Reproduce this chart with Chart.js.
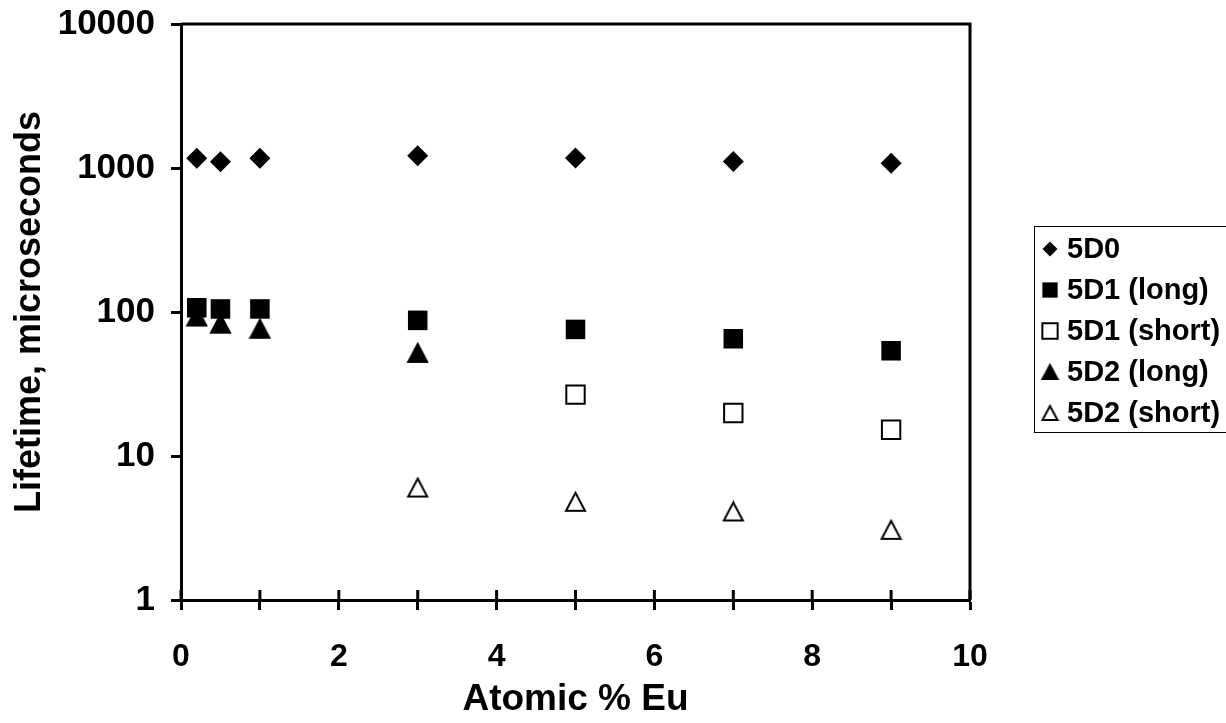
<!DOCTYPE html>
<html>
<head>
<meta charset="utf-8">
<script src="https://cdn.jsdelivr.net/npm/chart.js@4.4.0/dist/chart.umd.min.js"></script>
<style>
  html, body { margin: 0; padding: 0; background: #fff; }
  #wrap { width: 1226px; height: 723px; }
</style>
</head>
<body>
<div id="wrap"><canvas id="chart" width="1226" height="723"></canvas></div>
<script>
// ===========================
// Data
// ===========================
const euPercent = [0.2, 0.5, 1, 3, 5, 7, 9];
const d0Values = [1167, 1105, 1167, 1217, 1172, 1111, 1077];
const d1LongValues = [107, 105, 105, 87.5, 75.7, 65.2, 53.8];
const d1ShortValues = [null, null, null, null, 26.7, 19.9, 15.2];
const d2LongValues = [93, 83, 76.5, 52, null, null, null];
const d2ShortValues = [null, null, null, 6.04, 4.81, 4.12, 3.07];
const seriesNames = ["5D0", "5D1 (long)", "5D1 (short)", "5D2 (long)", "5D2 (short)"];
const xTickValues = [0, 1, 2, 3, 4, 5, 6, 7, 8, 9, 10];
const yTickValues = [1, 10, 100, 1000, 10000];

const FONT = "'Liberation Sans', Arial, Helvetica, sans-serif";

// ===========================
// Helpers
// ===========================
function toPoints(values) {
    return euPercent
        .map((x, i) => ({ x: x, y: values[i] }))
        .filter(p => p.y !== null);
}

// triangle marker centred on its bounding box (like the spreadsheet marker)
function triangleMarker(w, h, filled) {
    const c = document.createElement("canvas");
    c.width = w + 4;
    c.height = h + 4;
    const g = c.getContext("2d");
    g.beginPath();
    g.moveTo(c.width / 2, 2);
    g.lineTo(c.width - 2, h + 2);
    g.lineTo(2, h + 2);
    g.closePath();
    g.fillStyle = filled ? "#000" : "#fff";
    g.fill();
    g.lineWidth = 2;
    g.lineJoin = "miter";
    g.strokeStyle = "#000";
    g.stroke();
    return c;
}

const triFilled = triangleMarker(19, 18, true);
const triOpen = triangleMarker(19, 18, false);
const triFilledSmall = triangleMarker(15, 14, true);
const triOpenSmall = triangleMarker(15, 14, false);

// ===========================
// Plugins
// ===========================
// frame on top / right, and x ticks that cross the axis
const framePlugin = {
    id: "frame",
    afterDraw(chart) {
        const { ctx, chartArea: a, scales } = chart;
        ctx.save();
        ctx.strokeStyle = "#000";
        ctx.lineWidth = 3;
        ctx.beginPath();
        ctx.moveTo(a.left, a.top);
        ctx.lineTo(a.right, a.top);
        ctx.lineTo(a.right, a.bottom);
        ctx.stroke();
        xTickValues.forEach(v => {
            const px = scales.x.getPixelForValue(v);
            ctx.beginPath();
            ctx.moveTo(px, a.bottom);
            ctx.lineTo(px, a.bottom - 10);
            ctx.stroke();
        });
        ctx.restore();
    }
};

// boxed legend on the right
const legendPlugin = {
    id: "boxLegend",
    afterDraw(chart) {
        const ctx = chart.ctx;
        const left = 1034, top = 226, bottom = 432;
        const rowY = [249, 290, 331, 372, 413];
        ctx.save();
        ctx.strokeStyle = "#000";
        ctx.lineWidth = 1;
        ctx.strokeRect(left + 0.5, top + 0.5, 1240 - left, bottom - top);
        ctx.font = "bold 29px " + FONT;
        ctx.textBaseline = "middle";
        ctx.textAlign = "left";
        seriesNames.forEach((name, i) => {
            const ds = chart.data.datasets[i];
            const mx = 1050, my = rowY[i];
            if (i === 3 || i === 4) {
                const img = i === 3 ? triFilledSmall : triOpenSmall;
                ctx.drawImage(img, mx - img.width / 2, my - img.height / 2);
            } else {
                ctx.fillStyle = ds.pointBackgroundColor;
                ctx.strokeStyle = "#000";
                ctx.lineWidth = ds.pointBorderWidth;
                Chart.helpers.drawPoint(ctx, {
                    pointStyle: ds.pointStyle,
                    radius: i === 0 ? 7.5 : 10.8,
                    rotation: 0,
                    borderWidth: ds.pointBorderWidth
                }, mx, my);
            }
            ctx.fillStyle = "#000";
            ctx.fillText(name, 1067, my + 1);
        });
        ctx.restore();
    }
};

// ===========================
// Chart
// ===========================
new Chart(document.getElementById("chart").getContext("2d"), {
    type: "scatter",
    data: {
        datasets: [
            {
                label: seriesNames[0], data: toPoints(d0Values),
                pointStyle: "rectRot", pointRadius: 10.5,
                pointBackgroundColor: "#000", pointBorderColor: "#000", pointBorderWidth: 0
            },
            {
                label: seriesNames[1], data: toPoints(d1LongValues),
                pointStyle: "rect", pointRadius: 13.8,
                pointBackgroundColor: "#000", pointBorderColor: "#000", pointBorderWidth: 0
            },
            {
                label: seriesNames[2], data: toPoints(d1ShortValues),
                pointStyle: "rect", pointRadius: 13,
                pointBackgroundColor: "#fff", pointBorderColor: "#000", pointBorderWidth: 2
            },
            {
                label: seriesNames[3], data: toPoints(d2LongValues),
                pointStyle: triFilled, pointRadius: 10
            },
            {
                label: seriesNames[4], data: toPoints(d2ShortValues),
                pointStyle: triOpen, pointRadius: 10
            }
        ]
    },
    options: {
        responsive: false,
        animation: false,
        events: [],
        layout: { padding: { top: 24, right: 256, bottom: 0, left: 0 } },
        plugins: { legend: { display: false }, tooltip: { enabled: false } },
        scales: {
            x: {
                type: "linear", min: 0, max: 10,
                afterBuildTicks: s => { s.ticks = xTickValues.map(v => ({ value: v })); },
                afterFit: s => { s.height = 123; },
                ticks: {
                    callback: v => (v % 2 === 0 ? String(v) : ""),
                    font: { family: FONT, size: 32, weight: "bold" }, color: "#000",
                    padding: 28, maxRotation: 0, autoSkip: false
                },
                grid: { drawOnChartArea: false, drawTicks: true, tickLength: 10, tickWidth: 3, tickColor: "#000" },
                border: { display: true, color: "#000", width: 3 },
                title: {
                    display: true, text: "Atomic % Eu",
                    font: { family: FONT, size: 37, weight: "bold" }, color: "#000",
                    padding: { top: 0, bottom: 1 }
                }
            },
            y: {
                type: "logarithmic", min: 1, max: 10000,
                afterBuildTicks: s => { s.ticks = yTickValues.map(v => ({ value: v })); },
                afterFit: s => { s.width = 181; s.paddingTop = 0; s.paddingBottom = 0; },
                ticks: {
                    callback: v => String(v),
                    font: { family: FONT, size: 35, weight: "bold" }, color: "#000",
                    padding: 16, autoSkip: false
                },
                grid: { drawOnChartArea: false, drawTicks: true, tickLength: 10, tickWidth: 3, tickColor: "#000" },
                border: { display: true, color: "#000", width: 3 },
                title: {
                    display: true, text: "Lifetime, microseconds",
                    font: { family: FONT, size: 36, weight: "bold" }, color: "#000",
                    padding: { top: 8, bottom: 0 }
                }
            }
        }
    },
    plugins: [framePlugin, legendPlugin]
});
</script>
</body>
</html>
